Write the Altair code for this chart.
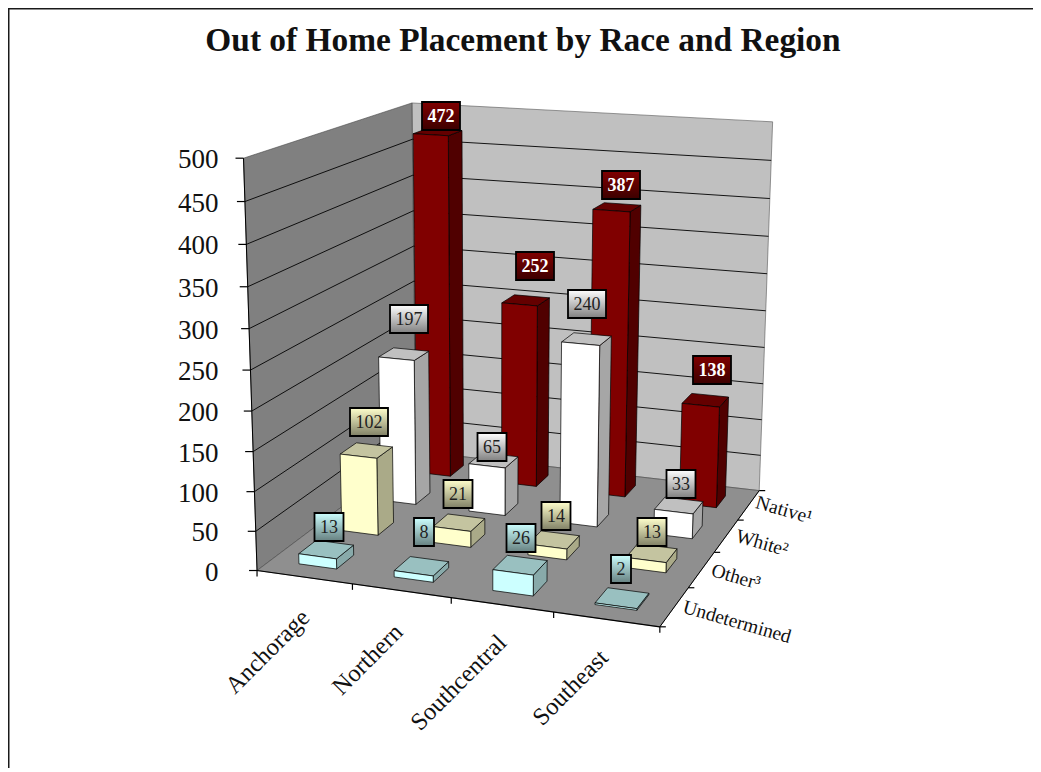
import altair as alt
import numpy as np
import pandas as pd

# ---------- data ----------
regions = ["Anchorage", "Northern", "Southcentral", "Southeast"]
races = ["Undetermined", "Other³", "White²", "Native¹"]   # front to back
native = [472, 252, 387, 138]
white = [197, 65, 240, 33]
other = [102, 21, 14, 13]
undetermined = [13, 8, 26, 2]
y_ticks = [0, 50, 100, 150, 200, 250, 300, 350, 400, 450, 500]
title_text = "Out of Home Placement by Race and Region"

# ---------- layout (page pixels) ----------
W, H = 1025, 760
FONT = "Liberation Serif"
box_pts = [((0, 0, 0), (256.7, 570.7)), ((4, 0, 0), (660, 626.5)), ((4, 4, 0), (759, 491)),
           ((0, 4, 0), (416, 451)), ((0, 0, 500), (243.7, 158.3)), ((0, 4, 500), (411.7, 103)),
           ((4, 4, 500), (772.7, 121.7))]
styles = {  # front, side, top, label top, label bottom
    "Native¹": ("#800000", "#500000", "#640000", "#800000", "#3c0000"),
    "White²": ("#ffffff", "#a6a6a6", "#c0c0c0", "#ffffff", "#808080"),
    "Other³": ("#ffffcc", "#aaaa88", "#c4c4a0", "#ffffcc", "#808066"),
    "Undetermined": ("#ccffff", "#88aaaa", "#99c0c0", "#ccffff", "#668080"),
}
label_pos = {
    "Native¹": [(441, 116), (535, 266), (621, 185), (712, 370)],
    "White²": [(409, 319), (492, 447), (587, 304), (681, 484)],
    "Other³": [(369, 422), (458, 494), (556, 516), (652, 532)],
    "Undetermined": [(329, 527), (424, 532), (521, 538), (621, 569)],
}
region_label_pos = [(268, 652), (368, 660), (459, 683), (571, 688)]
race_label_pos = {"Native¹": (784, 510), "White²": (762, 543), "Other³": (736, 577), "Undetermined": (737, 622)}
BAR, GAP = 0.4, 0.3

# ---------- projection fitted to the chart box ----------
A = []
for (u, v, w), (px, py) in box_pts:
    X = [u, v, w / 500, 1]
    A.append(X + [0, 0, 0, 0] + [-px * c for c in X])
    A.append([0, 0, 0, 0] + X + [-py * c for c in X])
P = np.linalg.svd(np.array(A, float))[2][-1].reshape(3, 4)


def proj(u, v, w):
    q = P @ np.array([u, v, w / 500, 1.0])
    return float(q[0] / q[2]), float(q[1] / q[2])


rows = []
pid = [0]


def poly(points, fill, sw=0.7, stroke="#000000", close=True):
    pid[0] += 1
    pts = list(points) + ([points[0]] if close else [])
    for i, (x, y) in enumerate(pts):
        rows.append(dict(px=x, py=y, poly=f"p{pid[0]:04d}", ord=i, fill=fill, stroke=stroke, sw=sw))


# walls and floor
poly([proj(0, 4, 0), proj(4, 4, 0), proj(4, 4, 500), proj(0, 4, 500)], "#c0c0c0", 0.6, "#555555")
poly([proj(0, 0, 0), proj(0, 4, 0), proj(0, 4, 500), proj(0, 0, 500)], "#808080", 0.6, "#444444")
poly([proj(0, 0, 0), proj(4, 0, 0), proj(4, 4, 0), proj(0, 4, 0)], "#8f8f8f", 0.6, "#444444")
for t in y_ticks[1:-1]:
    poly([proj(0, 0, t), proj(0, 4, t), proj(4, 4, t)], "none", 0.9, "#000000", close=False)
# axes and ticks
poly([proj(0, 0, 0), proj(0, 0, 500)], "none", 1, "#000000", close=False)
poly([proj(0, 0, 0), proj(4, 0, 0)], "none", 1.2, "#000000", close=False)
poly([proj(4, 0, 0), proj(4, 4, 0)], "none", 1, "#000000", close=False)
for t in y_ticks:
    x0, y0 = proj(0, 0, t)
    poly([(x0 - 8, y0), (x0, y0)], "none", 1.2, "#000000", close=False)
for i in range(5):
    x0, y0 = proj(i, 0, 0)
    poly([(x0, y0), (x0, y0 + 6)], "none", 1.2, "#000000", close=False)
    x1, y1 = proj(4, i, 0)
    poly([(x1, y1), (x1 + 6, y1)], "none", 1.2, "#000000", close=False)

# bars, back to front
series = {"Native¹": native, "White²": white, "Other³": other, "Undetermined": undetermined}
for race in races[::-1]:
    d = races.index(race)
    front, side, top = styles[race][:3]
    for c, val in enumerate(series[race]):
        u0, u1, v0, v1 = c + GAP, c + GAP + BAR, d + GAP, d + GAP + BAR
        poly([proj(u1, v0, 0), proj(u1, v1, 0), proj(u1, v1, val), proj(u1, v0, val)], side)
        poly([proj(u0, v0, val), proj(u1, v0, val), proj(u1, v1, val), proj(u0, v1, val)], top)
        poly([proj(u0, v0, 0), proj(u1, v0, 0), proj(u1, v0, val), proj(u0, v0, val)], front)
poly_df = pd.DataFrame(rows)

# ---------- scales ----------
xs = alt.Scale(domain=[8, 8 + W], range=[0, W], nice=False, zero=False)
ys = alt.Scale(domain=[8, 8 + H], range=[0, H], nice=False, zero=False)
X = alt.X("px:Q", scale=xs, axis=None)
Y = alt.Y("py:Q", scale=ys, axis=None)

layers = [
    alt.Chart(poly_df).mark_line(interpolate="linear", strokeJoin="miter").encode(
        x=X, y=Y, detail="poly:N", order="ord:Q",
        fill=alt.Fill("fill:N", scale=None),
        stroke=alt.Stroke("stroke:N", scale=None),
        strokeWidth=alt.StrokeWidth("sw:Q", scale=None),
    )
]

# frame (top and left only)
frame = pd.DataFrame(dict(px=[8.7, 8.7, 8 + W], py=[8 + H, 8.7, 8.7]))
layers.append(alt.Chart(frame).mark_line(color="#1a1a1a", strokeWidth=1.6, order=False).encode(x=X, y=Y))

# labels on bars
for race in races:
    _, _, _, c0, c1 = styles[race]
    lab = []
    for v, (cx, cy) in zip(series[race], label_pos[race]):
        hw = {1: 10, 2: 14.5, 3: 19}[len(str(v))]
        lab.append(dict(px=cx - hw, px2=cx + hw, py=cy - 14, py2=cy + 14, cx=cx, cy=cy + 0.5, t=str(v)))
    lab = pd.DataFrame(lab)
    grad = alt.Gradient(gradient="linear", x1=0, x2=0, y1=0, y2=1,
                        stops=[alt.GradientStop(offset=0, color=c0), alt.GradientStop(offset=1, color=c1)])
    layers.append(alt.Chart(lab).mark_rect(fill=grad, stroke="#000000", strokeWidth=1.8).encode(
        x=X, x2="px2:Q", y=Y, y2="py2:Q"))
    is_red = race == "Native¹"
    layers.append(alt.Chart(lab).mark_text(
        font=FONT, fontSize=18, fontWeight="bold" if is_red else "normal",
        color="#ffffff" if is_red else "#1f1f1f", align="center", baseline="middle").encode(
        x=alt.X("cx:Q", scale=xs, axis=None), y=alt.Y("cy:Q", scale=ys, axis=None), text="t:N"))


def text_layer(items, size, angle=0, weight="normal", align="center"):
    df = pd.DataFrame(items, columns=["px", "py", "t"])
    return alt.Chart(df).mark_text(font=FONT, fontSize=size, fontWeight=weight, angle=angle,
                                   color="#111111", align=align, baseline="middle").encode(x=X, y=Y, text="t:N")


layers.append(text_layer([(523, 41, title_text)], 33.4, weight="bold"))
layers.append(text_layer([(218.5, proj(0, 0, t)[1] + 2, str(t)) for t in y_ticks], 27, align="right"))
layers.append(text_layer([(x, y, r) for r, (x, y) in zip(regions, region_label_pos)], 24.5, angle=315))
layers.append(text_layer([(x, y, r) for r, (x, y) in race_label_pos.items()], 19.5, angle=16))

chart = alt.layer(*layers).properties(
    width=W, height=H, padding=0, autosize=alt.AutoSizeParams(type="none"),
    background="#ffffff"
).configure_view(stroke=None)

chart.save("out.html", embed_options={"renderer": "svg", "actions": False})
